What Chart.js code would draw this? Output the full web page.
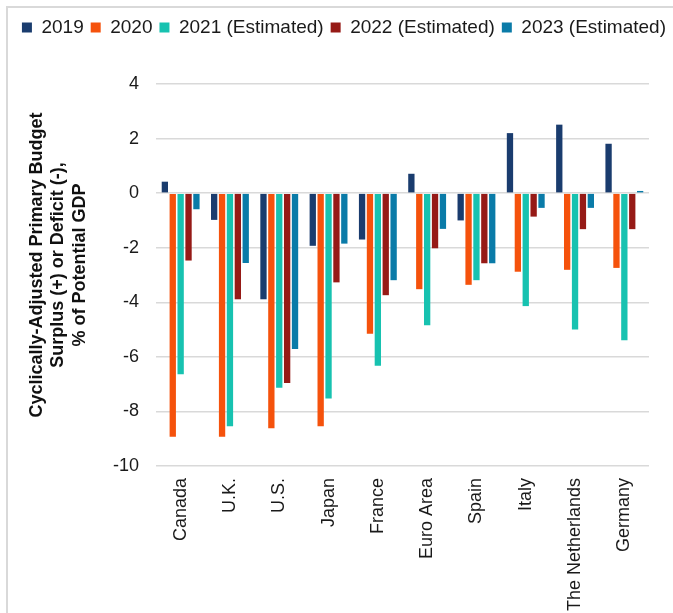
<!DOCTYPE html>
<html><head><meta charset="utf-8">
<script src="https://cdn.jsdelivr.net/npm/chart.js@4/dist/chart.umd.min.js"></script>
<style>html,body{margin:0;padding:0;background:#fff;}#wrap{width:673px;height:613px;position:relative;}</style>
</head><body><div id="wrap"><canvas id="c" width="673" height="613"></canvas></div>
<script>
const categories = ["Canada","U.K.","U.S.","Japan","France","Euro Area","Spain","Italy","The Netherlands","Germany"];
const seriesNames = ["2019","2020","2021 (Estimated)","2022 (Estimated)","2023 (Estimated)"];
const v2019 = [0.42,-0.98,-3.89,-1.93,-1.70,0.71,-1.00,2.20,2.51,1.81];
const v2020 = [-8.93,-8.93,-8.62,-8.54,-5.15,-3.52,-3.36,-2.88,-2.81,-2.74];
const v2021 = [-6.64,-8.54,-7.13,-7.53,-6.33,-4.84,-3.19,-4.14,-5.00,-5.39];
const v2022 = [-2.47,-3.89,-6.96,-3.27,-3.74,-2.02,-2.57,-0.86,-1.32,-1.32];
const v2023 = [-0.59,-2.56,-5.71,-1.85,-3.19,-1.31,-2.57,-0.54,-0.54,0.08];
const yTicks = [4,2,0,-2,-4,-6,-8,-10];
const yTitle = ["Cyclically-Adjusted Primary Budget","Surplus (+) or Deficit (-),","% of Potential GDP"];
const colors = ["#1a3c6e","#f5520c","#17c2b0","#961a16","#0a7ba8"];
const values = [v2019,v2020,v2021,v2022,v2023];
const FONT = 'Liberation Sans';

const frame = {id:'frame', afterDraw(chart){const c=chart.ctx;c.save();c.strokeStyle='#d9d9d9';c.lineWidth=2;c.strokeRect(7,7,700,700);c.restore();}};
const legendGap = {id:'legendGap', beforeInit(chart){const fit=chart.legend.fit;chart.legend.fit=function(){fit.bind(chart.legend)();this.height+=37;};}};

new Chart(document.getElementById('c'),{
  type:'bar',
  data:{labels:categories,datasets:seriesNames.map((n,i)=>({label:n,data:values[i],backgroundColor:colors[i],borderWidth:0,categoryPercentage:0.8,barPercentage:0.8,yAxisID:'y'}))},
  options:{
    responsive:false,animation:false,
    layout:{padding:{left:8,right:0,top:11,bottom:0}},
    plugins:{
      legend:{position:'top',align:'end',labels:{boxWidth:10,boxHeight:10,padding:7,color:'#1a1a1a',font:{family:FONT,size:19}}},
      tooltip:{enabled:false}
    },
    scales:{
      x:{grid:{display:false,drawTicks:false},border:{display:false},
        ticks:{color:'#1a1a1a',font:{family:FONT,size:18},minRotation:90,maxRotation:90,padding:12,autoSkip:false},
        afterFit(s){s.height=147;}},
      y:{min:-10,max:4,afterBuildTicks(ax){ax.ticks=yTicks.map(v=>({value:v}));},
        grid:{color:'#d9d9d9',lineWidth:1.5,drawTicks:false},border:{display:false},
        ticks:{color:'#1a1a1a',font:{family:FONT,size:18},padding:17},
        title:{display:true,text:yTitle.map(t=>'    '+t),color:'#111',font:{family:FONT,size:18,weight:'bold',lineHeight:1.2},padding:{top:18,bottom:4}},
        afterFit(s){s.width=148;}},
      yR:{position:'right',display:true,grid:{display:false,drawTicks:false},border:{display:false},ticks:{display:false},afterFit(s){s.width=24;}}
    }
  },
  plugins:[frame,legendGap]
});
</script></body></html>
